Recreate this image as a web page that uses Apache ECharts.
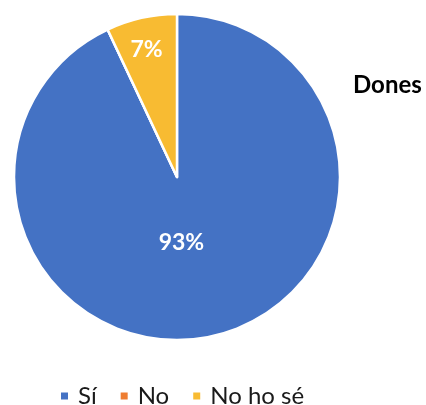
<!DOCTYPE html>
<html><head><meta charset="utf-8">
<script src="https://cdn.jsdelivr.net/npm/echarts@6/dist/echarts.min.js"></script>
<style>html,body{margin:0;padding:0;background:#fff}#c{width:426px;height:405px}</style>
</head><body><div id="c"></div>
<script>
const categories = ["Sí", "No", "No ho sé"];
const values = [93, 0, 7];
const colors = ["#4472C4", "#EE7D31", "#F8BB32"];
const labelOffsets = [[-14, -17], [0, 0], [-12, -45]];
const chart = echarts.init(document.getElementById('c'));
const font = 'Lato, "Open Sans", sans-serif';
chart.setOption({
  animation: false,
  title: { text: 'Dones', left: 348, top: 68, textStyle: { fontFamily: font, fontWeight: 'bold', fontSize: 24, color: '#000' } },
  legend: {
    top: 379, left: 54, itemWidth: 9, itemHeight: 9, itemGap: 22, icon: 'rect',
    data: categories,
    textStyle: { fontFamily: font, fontSize: 24, color: '#1a1a1a', padding: [0,0,0,4] }
  },
  series: [{
    type: 'pie', center: [177, 177], radius: 163, startAngle: 90, clockwise: true,
    avoidLabelOverlap: false, minShowLabelAngle: 0.1,
    itemStyle: { borderColor: '#fff', borderWidth: 2.5 },
    label: { position: 'inside', color: '#fff', fontFamily: font, fontSize: 23, fontWeight: 'bold', formatter: '{c}%' },
    labelLine: { show: false },
    data: categories.map((n, i) => ({ name: n, value: values[i], itemStyle: { color: colors[i] },
      label: { offset: labelOffsets[i], show: values[i] > 0 } }))
  }]
});
</script></body></html>
